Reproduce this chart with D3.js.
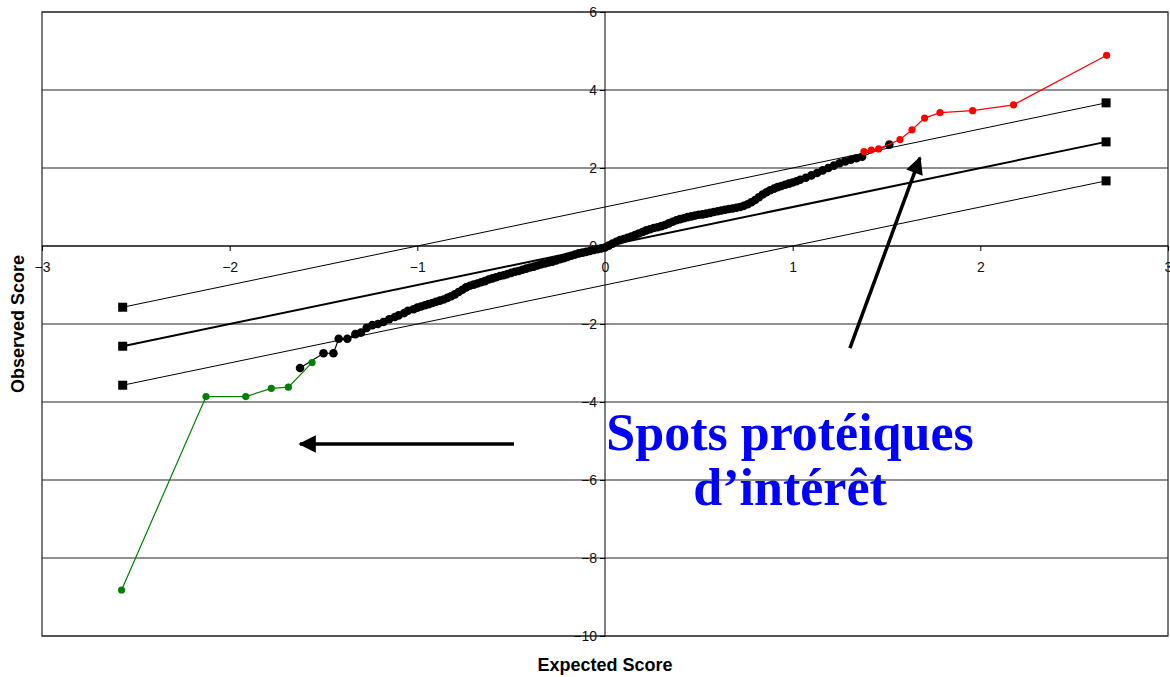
<!DOCTYPE html>
<html><head><meta charset="utf-8">
<script src="https://cdn.jsdelivr.net/npm/d3@7"></script>
<style>body{margin:0;background:#fff}svg{display:block}</style>
</head><body>
<svg id="c" width="1170" height="677"></svg>
<script>
// ---- data ----
const xTicks = [-3,-2,-1,0,1,2,3];
const yTicks = [-10,-8,-6,-4,-2,0,2,4,6];
const refX = [-2.57, 2.67];
const refMid = [-2.57, 2.67];
const refUp = [-1.57, 3.67];
const refLow = [-3.57, 1.67];
const greenX = [-2.576,-2.126,-1.914,-1.778,-1.687,-1.561];
const greenY = [-8.82,-3.86,-3.86,-3.65,-3.62,-2.99];
const redX = [1.380,1.419,1.458,1.572,1.636,1.703,1.785,1.959,2.177,2.673];
const redY = [2.42,2.46,2.49,2.73,2.98,3.28,3.42,3.47,3.62,4.89];
const blackX = [-1.625,-1.50,-1.447,-1.419,-1.373,-1.33,-1.30,-1.27,-1.24,-1.21,-1.18,-1.15,-1.12,-1.10,-1.07,-1.05,-1.02,-1.00,-0.98,-0.96,-0.94,-0.92,-0.90,-0.88,-0.86,-0.84,-0.82,-0.80,-0.78,-0.76,-0.74,-0.72,-0.70,-0.68,-0.66,-0.64,-0.62,-0.60,-0.58,-0.56,-0.54,-0.52,-0.50,-0.48,-0.46,-0.44,-0.42,-0.40,-0.38,-0.36,-0.34,-0.32,-0.30,-0.28,-0.26,-0.24,-0.22,-0.20,-0.18,-0.16,-0.14,-0.12,-0.10,-0.08,-0.06,-0.04,-0.02,0.00,0.02,0.04,0.06,0.08,0.10,0.12,0.14,0.16,0.18,0.20,0.22,0.24,0.26,0.28,0.30,0.32,0.34,0.36,0.38,0.40,0.42,0.44,0.46,0.48,0.50,0.52,0.54,0.56,0.58,0.60,0.62,0.64,0.66,0.68,0.70,0.72,0.74,0.76,0.78,0.80,0.82,0.84,0.86,0.88,0.90,0.92,0.94,0.96,0.98,1.00,1.02,1.04,1.07,1.10,1.13,1.16,1.19,1.22,1.25,1.28,1.31,1.34,1.37];
const blackY = [-3.13,-2.75,-2.75,-2.38,-2.38,-2.26,-2.22,-2.10,-2.03,-2.00,-1.95,-1.88,-1.82,-1.78,-1.72,-1.66,-1.62,-1.58,-1.55,-1.52,-1.49,-1.46,-1.43,-1.40,-1.37,-1.33,-1.29,-1.24,-1.18,-1.12,-1.06,-1.02,-0.99,-0.96,-0.93,-0.90,-0.86,-0.83,-0.80,-0.77,-0.75,-0.72,-0.69,-0.66,-0.64,-0.61,-0.58,-0.55,-0.53,-0.50,-0.47,-0.45,-0.42,-0.40,-0.37,-0.34,-0.31,-0.28,-0.25,-0.22,-0.19,-0.17,-0.15,-0.13,-0.10,-0.08,-0.06,-0.04,0.01,0.06,0.11,0.15,0.18,0.21,0.24,0.28,0.32,0.36,0.40,0.43,0.46,0.48,0.51,0.54,0.58,0.62,0.66,0.69,0.71,0.74,0.76,0.78,0.80,0.81,0.83,0.85,0.87,0.89,0.91,0.93,0.95,0.96,0.98,1.00,1.03,1.07,1.12,1.18,1.25,1.32,1.38,1.43,1.47,1.51,1.54,1.57,1.60,1.63,1.66,1.70,1.75,1.81,1.87,1.94,2.00,2.06,2.12,2.17,2.21,2.25,2.29];
const loneX = [1.515];
const loneY = [2.60];
const arrows = [[[1.305,-2.62],[1.678,2.26]], [[-0.485,-5.08],[-1.625,-5.08]]];
const noteLines = ["Spots protéiques", "d\u2019intérêt"];
const noteX = 0.986, noteY = [-5.23, -6.64];

// ---- chart ----
const svg = d3.select("#c");
const x = d3.scaleLinear([-3,3],[42,1168]);
const y = d3.scaleLinear([-10,6],[636,12]);

svg.append("defs").append("marker").attr("id","ah")
  .attr("viewBox","0 0 10 10").attr("refX",9).attr("refY",5)
  .attr("markerWidth",6).attr("markerHeight",5).attr("markerUnits","strokeWidth")
  .attr("orient","auto").append("path").attr("d","M0,0L10,5L0,10z").attr("fill","#000");

// gridlines
svg.append("g").selectAll("line").data(yTicks).join("line")
  .attr("x1",x(-3)).attr("x2",x(3)).attr("y1",d=>y(d)).attr("y2",d=>y(d))
  .attr("stroke","#222").attr("stroke-width",1);
// border
svg.append("rect").attr("x",x(-3)).attr("y",y(6)).attr("width",x(3)-x(-3)).attr("height",y(-10)-y(6))
  .attr("fill","none").attr("stroke","#333").attr("stroke-width",1.3);

// axes through origin
const gx = svg.append("g").attr("transform",`translate(0,${y(0)})`)
  .call(d3.axisBottom(x).tickValues(xTicks).tickSize(5).tickPadding(11).tickFormat(d3.format("d")));
const gy = svg.append("g").attr("transform",`translate(${x(0)},0)`)
  .call(d3.axisLeft(y).tickValues(yTicks).tickSize(5).tickPadding(3).tickFormat(d3.format("d")));
[gx,gy].forEach(g=>{
  g.select(".domain").attr("stroke","#000");
  g.selectAll("text").attr("font-family","Liberation Sans, Arial, sans-serif").attr("font-size",14).attr("fill","#111");
  g.selectAll(".tick line").attr("stroke","#000");
});
gy.selectAll(".tick text").attr("dy","0.32em");
gx.select(".domain").attr("d",`M${x(-3)},0H${x(3)}`);
gy.select(".domain").attr("d",`M0,${y(-10)}V${y(6)}`);

// reference lines
const refs = [[refMid,2],[refUp,1],[refLow,1]];
refs.forEach(([ys,w])=>{
  svg.append("line").attr("x1",x(refX[0])).attr("y1",y(ys[0])).attr("x2",x(refX[1])).attr("y2",y(ys[1]))
    .attr("stroke","#000").attr("stroke-width",w);
  svg.append("g").selectAll("rect").data(refX.map((d,i)=>[d,ys[i]])).join("rect")
    .attr("x",d=>x(d[0])-4.5).attr("y",d=>y(d[1])-4.5).attr("width",9).attr("height",9).attr("fill","#000");
});

const line = d3.line().x(d=>x(d[0])).y(d=>y(d[1]));
function series(xs, ys, color, r){
  const pts = xs.map((d,i)=>[d,ys[i]]);
  svg.append("path").datum(pts).attr("d",line).attr("fill","none").attr("stroke",color).attr("stroke-width",1.2);
  svg.append("g").selectAll("circle").data(pts).join("circle")
    .attr("cx",d=>x(d[0])).attr("cy",d=>y(d[1])).attr("r",r).attr("fill",color);
}
series(blackX.concat(loneX), blackY.concat(loneY), "#000", 4.3);
series(greenX, greenY, "#008000", 3.6);
series(redX, redY, "#ff0000", 3.6);

// arrows
arrows.forEach(a=>{
  svg.append("line").attr("x1",x(a[0][0])).attr("y1",y(a[0][1])).attr("x2",x(a[1][0])).attr("y2",y(a[1][1]))
    .attr("stroke","#000").attr("stroke-width",3.5).attr("marker-end","url(#ah)");
});

// annotation
svg.append("g").selectAll("text").data(noteLines).join("text")
  .attr("x",x(noteX)).attr("y",(d,i)=>y(noteY[i])).attr("text-anchor","middle")
  .attr("font-family","Liberation Serif, serif").attr("font-weight","bold").attr("font-size",52)
  .attr("fill","#0000ff").text(d=>d);

// axis titles
svg.append("text").attr("x",x(0)).attr("y",671).attr("text-anchor","middle")
  .attr("font-family","Liberation Sans, Arial, sans-serif").attr("font-weight","bold").attr("font-size",18).text("Expected Score");
svg.append("text").attr("transform",`translate(24,${(y(6)+y(-10))/2}) rotate(-90)`).attr("text-anchor","middle")
  .attr("font-family","Liberation Sans, Arial, sans-serif").attr("font-weight","bold").attr("font-size",18).text("Observed Score");
</script>
</body></html>
